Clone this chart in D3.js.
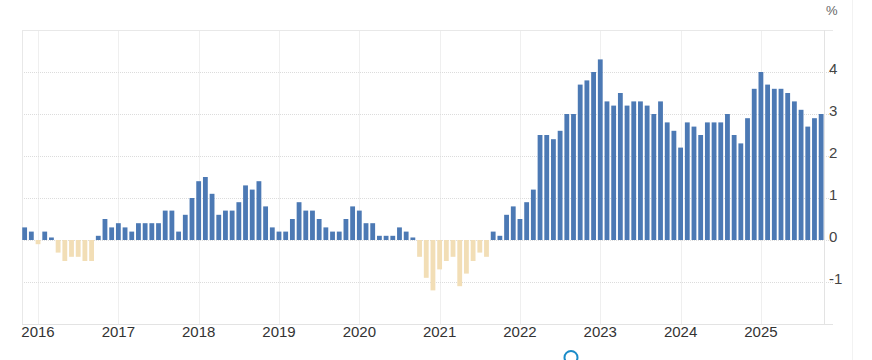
<!DOCTYPE html>
<html>
<head>
<meta charset="utf-8">
<script src="https://cdn.jsdelivr.net/npm/d3@7"></script>
<style>
  body { margin: 0; background: #fff; }
  svg { display: block; font-family: "Liberation Sans", Arial, sans-serif; }
</style>
</head>
<body>
<svg id="chart" width="872" height="360"></svg>
<script>
// Monthly inflation rate, Nov 2015 .. Oct 2025
const firstMonth = new Date(2015, 10, 1);
const values = [
  0.3, 0.2,                                                   // 2015 (Nov, Dec)
  -0.1, 0.2, 0.06, -0.3, -0.5, -0.4, -0.4, -0.5, -0.5, 0.1, 0.5, 0.3, // 2016
  0.4, 0.3, 0.2, 0.4, 0.4, 0.4, 0.4, 0.7, 0.7, 0.2, 0.6, 1.0, // 2017
  1.4, 1.5, 1.1, 0.6, 0.7, 0.7, 0.9, 1.3, 1.2, 1.4, 0.8, 0.3, // 2018
  0.2, 0.2, 0.5, 0.9, 0.7, 0.7, 0.5, 0.3, 0.2, 0.2, 0.5, 0.8, // 2019
  0.7, 0.4, 0.4, 0.1, 0.1, 0.1, 0.3, 0.2, 0.06, -0.4, -0.9, -1.2, // 2020
  -0.7, -0.5, -0.4, -1.1, -0.8, -0.5, -0.3, -0.4, 0.2, 0.1, 0.6, 0.8, // 2021
  0.5, 0.9, 1.2, 2.5, 2.5, 2.4, 2.6, 3.0, 3.0, 3.7, 3.8, 4.0, // 2022
  4.3, 3.3, 3.2, 3.5, 3.2, 3.3, 3.3, 3.2, 3.0, 3.3, 2.8, 2.6, // 2023
  2.2, 2.8, 2.7, 2.5, 2.8, 2.8, 2.8, 3.0, 2.5, 2.3, 2.9, 3.6, // 2024
  4.0, 3.7, 3.6, 3.6, 3.5, 3.3, 3.1, 2.7, 2.9, 3.0            // 2025
];
const yearLabels = ["2016", "2017", "2018", "2019", "2020", "2021", "2022", "2023", "2024", "2025"];
const yTicks = [-1, 0, 1, 2, 3, 4];

const months = d3.timeMonth.range(firstMonth, d3.timeMonth.offset(firstMonth, values.length));
const data = months.map((m, i) => ({ month: m, value: values[i] }));

const svg = d3.select("#chart");
const plotLeft = 22, plotRight = 824, plotTop = 30, plotBottom = 324;

const x = d3.scaleBand()
  .domain(months.map(d => +d))
  .range([21.3, 824.5])
  .paddingInner(0.28)
  .paddingOuter(0.14);

const y = d3.scaleLinear().domain([-2, 5]).range([plotBottom, plotTop]);

const xc = d => x(+d) + x.bandwidth() / 2;
const yearTicks = yearLabels.map(s => new Date(+s, 0, 1));

// faint outer line on the right
svg.append("line")
  .attr("x1", 852.5).attr("x2", 852.5).attr("y1", 0).attr("y2", 360)
  .attr("stroke", "#f2f2f2");

// vertical year grid
svg.append("g").selectAll("line")
  .data(yearTicks)
  .enter().append("line")
  .attr("x1", d => Math.round(xc(d)) + 0.5)
  .attr("x2", d => Math.round(xc(d)) + 0.5)
  .attr("y1", plotTop).attr("y2", plotBottom)
  .attr("stroke", "#efefef");

// horizontal dotted grid
svg.append("g").selectAll("line")
  .data(yTicks)
  .enter().append("line")
  .attr("x1", plotLeft).attr("x2", 833)
  .attr("y1", d => Math.round(y(d)) + 0.5)
  .attr("y2", d => Math.round(y(d)) + 0.5)
  .attr("stroke", "#dcdcdc")
  .attr("stroke-dasharray", "1,1");

// frame
svg.append("line").attr("x1", plotLeft).attr("x2", 833).attr("y1", plotTop + 0.5).attr("y2", plotTop + 0.5).attr("stroke", "#e8e8e8");
svg.append("line").attr("x1", plotLeft).attr("x2", 833).attr("y1", plotBottom + 0.5).attr("y2", plotBottom + 0.5).attr("stroke", "#e3e3e3");
svg.append("line").attr("x1", plotLeft + 0.5).attr("x2", plotLeft + 0.5).attr("y1", plotTop).attr("y2", plotBottom).attr("stroke", "#e8e8e8");
svg.append("line").attr("x1", plotRight + 0.5).attr("x2", plotRight + 0.5).attr("y1", plotTop).attr("y2", plotBottom).attr("stroke", "#e3e3e3");

// bars
svg.append("g").selectAll("rect")
  .data(data)
  .enter().append("rect")
  .attr("x", d => x(+d.month))
  .attr("width", x.bandwidth())
  .attr("y", d => y(Math.max(0, d.value)))
  .attr("height", d => Math.abs(y(d.value) - y(0)))
  .attr("fill", d => d.value < 0 ? "#f2deb6" : "#4c79b4");

// x labels
svg.append("g").selectAll("text")
  .data(yearTicks)
  .enter().append("text")
  .attr("x", d => xc(d))
  .attr("y", 337)
  .attr("text-anchor", "middle")
  .attr("font-size", "15px")
  .attr("fill", "#333")
  .text((d, i) => yearLabels[i]);

// y labels
svg.append("g").selectAll("text")
  .data(yTicks)
  .enter().append("text")
  .attr("x", 829)
  .attr("y", d => y(d) + 2)
  .attr("font-size", "15px")
  .attr("fill", "#444")
  .text(d => d < 0 ? "-" + Math.abs(d) : d);

svg.append("text")
  .attr("x", 826).attr("y", 15)
  .attr("font-size", "13px")
  .attr("fill", "#666")
  .text("%");

// small ring at the bottom
svg.append("circle")
  .attr("cx", 571).attr("cy", 357.5).attr("r", 6.5)
  .attr("fill", "none")
  .attr("stroke", "#1a8bc8")
  .attr("stroke-width", 2);
</script>
</body>
</html>
